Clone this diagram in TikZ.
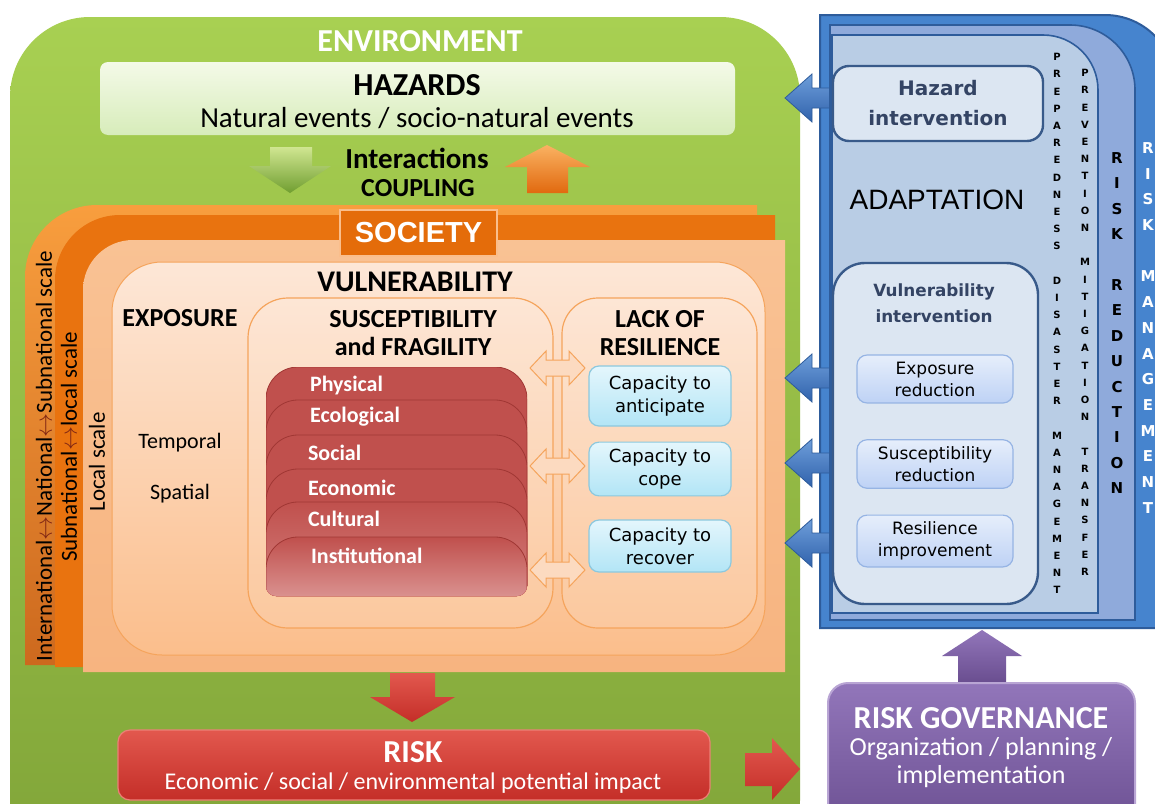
\documentclass[tikz,border=0pt]{standalone}
\usepackage{fontspec}
\setmainfont{Carlito}
\newfontfamily\verdfont{DejaVu Sans}
\newfontfamily\arialfont{Liberation Sans}
\usetikzlibrary{positioning}

\definecolor{envtop}{RGB}{168,208,82}
\definecolor{envbot}{RGB}{128,164,56}
\definecolor{haztop}{RGB}{244,250,232}
\definecolor{hazbot}{RGB}{215,236,186}
\definecolor{orgA}{RGB}{248,158,62}
\definecolor{orgAbot}{RGB}{205,105,30}
\definecolor{orgB}{RGB}{233,115,15}
\definecolor{peach}{RGB}{249,194,148}
\definecolor{peachbot}{RGB}{247,180,128}
\definecolor{vultop}{RGB}{253,231,215}
\definecolor{vulbot}{RGB}{251,190,140}
\definecolor{vulline}{RGB}{245,164,92}
\definecolor{socbox}{RGB}{228,108,10}
\definecolor{stackred}{RGB}{192,80,77}
\definecolor{stackline}{RGB}{160,55,52}
\definecolor{captop}{RGB}{228,246,252}
\definecolor{capbot}{RGB}{178,229,246}
\definecolor{capline}{RGB}{140,200,222}
\definecolor{dblfill}{RGB}{252,218,192}
\definecolor{risktop}{RGB}{226,88,78}
\definecolor{riskbot}{RGB}{196,46,40}
\definecolor{blueA}{RGB}{70,132,206}
\definecolor{blueline}{RGB}{46,92,155}
\definecolor{blueB}{RGB}{143,170,219}
\definecolor{blueC}{RGB}{185,205,229}
\definecolor{intfill}{RGB}{220,230,242}
\definecolor{intline}{RGB}{56,90,138}
\definecolor{inttext}{RGB}{52,68,100}
\definecolor{smalltop}{RGB}{230,238,251}
\definecolor{smallbot}{RGB}{190,210,245}
\definecolor{smallline}{RGB}{150,180,228}
\definecolor{arrtop}{RGB}{110,158,218}
\definecolor{arrbot}{RGB}{48,98,172}
\definecolor{purtop}{RGB}{146,118,186}
\definecolor{purbot}{RGB}{106,78,144}
\definecolor{purline}{RGB}{185,165,212}
\definecolor{scalearrow}{RGB}{130,40,20}

\newcommand\fsz[2]{\fontsize{#1}{#2}\selectfont}
\newcommand\lr{\textcolor{scalearrow}{$\leftrightarrow$}}

\tikzset{
  head/.style={font=\bfseries\fsz{13}{14}, align=center},
  layerbox/.style={fill=stackred, draw=stackline, line width=0.4pt, rounded corners=16pt},
  redtag/.style={font=\bfseries\fsz{11}{13}, text=white, anchor=west},
  capbox/.style={draw=capline, line width=0.6pt, rounded corners=5pt, top color=captop,
    bottom color=capbot, minimum width=71pt, font=\verdfont\fsz{9}{11.5}, align=center},
  twoway/.style={fill=dblfill, draw=vulline, line width=0.5pt},
  panelarrow/.style={top color=arrtop, bottom color=arrbot, draw=blueline, line width=0.4pt},
  intbox/.style={fill=intfill, draw=intline, line width=1.2pt, text=inttext, align=center},
  smallbox/.style={top color=smalltop, bottom color=smallbot, draw=smallline, line width=0.6pt,
    rounded corners=5pt, minimum width=78pt, minimum height=21pt,
    font=\verdfont\fsz{8.5}{11}, align=center},
  tinyletter/.style={font=\verdfont\bfseries\fsz{5}{6}, inner sep=0pt},
  bigletter/.style={font=\verdfont\bfseries\fsz{7.5}{8}, inner sep=0pt},
  scaletext/.style={rotate=90, font=\fsz{11.5}{13}},
}

\begin{document}
\begin{tikzpicture}[x=0.5pt,y=-0.5pt]
\useasboundingbox (0,0) rectangle (1155,803);
\clip (0,0) rectangle (1155,803);
\fill[white] (0,0) rectangle (1155,803);

% environment
\path[top color=envtop, bottom color=envbot, rounded corners=40pt] (10,17) rectangle (800,880);
\node[font=\bfseries\fsz{16}{18}, text=white] (env) at (420,41) {ENVIRONMENT};

% hazards
\node[top color=haztop, bottom color=hazbot, rounded corners=4pt, minimum width=317.5pt,
  minimum height=36.5pt] (hazards) at (417.5,98.5) {};
\node[font=\bfseries\fsz{16}{18}] (haztitle) at (417,85) {HAZARDS};
\node[font=\fsz{14.5}{17}] (hazsub) at (417,118) {Natural events / socio-natural events};

% coupling arrows
\path[top color={rgb,255:red,208;green,230;blue,145}, bottom color={rgb,255:red,112;green,158;blue,48}]
  (270,147) -- (312,147) -- (312,166) -- (331,166) -- (290,193) -- (249,166) -- (270,166) -- cycle;
\path[top color={rgb,255:red,250;green,178;blue,98}, bottom color={rgb,255:red,225;green,105;blue,15}]
  (547,145) -- (590,167) -- (568,167) -- (568,193) -- (527,193) -- (527,167) -- (505,167) -- cycle;
\node[font=\bfseries\fsz{14.5}{16}] (inter) at (417,158) {Interactions};
\node[font=\bfseries\fsz{13}{15}] (coupl) at (418,188) {COUPLING};

% society layers
\path[top color=orgA, bottom color=orgAbot] (25,665) -- (25,277)
  arc[start angle=180, end angle=270, radius=72] -- (757,205) -- (757,665) -- cycle;
\path[fill=orgB] (55,667) -- (55,280)
  arc[start angle=180, end angle=270, radius=65] -- (775,215) -- (775,667) -- cycle;
\path[top color=peach, bottom color=peachbot] (83,672) -- (83,290)
  arc[start angle=180, end angle=270, radius=50] -- (785,240) -- (785,672) -- cycle;
\node[fill=socbox, draw={rgb,255:red,250;green,190;blue,140}, line width=0.6pt, minimum width=78.5pt,
  minimum height=23pt, text=white, font=\arialfont\bfseries\fsz{14.5}{16}] (society) at (418.5,233) {SOCIETY};

\node[scaletext] (scaleA) at (44,456) {International\lr National\lr Subnational scale};
\node[scaletext] (scaleB) at (69,447) {Subnational\lr local scale};
\node[scaletext] (scaleC) at (97,462) {Local scale};

% vulnerability
\node[top color=vultop, bottom color=vulbot, draw=vulline, line width=0.5pt, rounded corners=25pt,
  minimum width=326.5pt, minimum height=196.5pt] (vuln) at (438.5,458.5) {};
\node[font=\bfseries\fsz{15}{17}] (vulntitle) at (415,282) {VULNERABILITY};
\node[head] (expo) at (180,318) {EXPOSURE};
\node[font=\fsz{11}{13}] (temporal) at (180,443) {Temporal};
\node[font=\fsz{11}{13}] (spatial) at (180,494) {Spatial};

\node[fill=white, fill opacity=0.12, draw=vulline, line width=0.6pt, rounded corners=20pt,
  minimum width=152.5pt, minimum height=165pt] (suscbox) at (400.5,463) {};
\node[fill=white, fill opacity=0.12, draw=vulline, line width=0.6pt, rounded corners=18pt,
  minimum width=97.5pt, minimum height=165pt] (resbox) at (659.5,463) {};
\node[head] (susc) at (413,333) {SUSCEPTIBILITY\\and FRAGILITY};
\node[head] (lack) at (660,333) {LACK OF\\RESILIENCE};

% susceptibility stack
\begin{scope}
  \clip[rounded corners=5pt] (266,367) rectangle (527,596);
  \path[layerbox] (266,367) rectangle (527,660);
  \path[layerbox] (266,400) rectangle (527,660);
  \path[layerbox] (266,435) rectangle (527,660);
  \path[layerbox] (266,469) rectangle (527,660);
  \path[layerbox, top color=stackred, bottom color={rgb,255:red,225;green,160;blue,158}] (266,502) rectangle (527,660);
  \path[layerbox, top color=stackred, bottom color={rgb,255:red,245;green,215;blue,214}] (266,537) rectangle (527,660);
\end{scope}
\node[redtag] (physical) at (303,386) {Physical};
\node[redtag] (ecolog) at (303,417) {Ecological};
\node[redtag] (social) at (301,453) {Social};
\node[redtag] (econ) at (301,488) {Economic};
\node[redtag] (cultural) at (301,519) {Cultural};
\node[redtag] (instit) at (304,556) {Institutional};

% capacities
\node[capbox, minimum height=30pt] (anticip) at (660,396) {Capacity to\\anticipate};
\node[capbox, minimum height=25pt] (cope) at (660,469) {Capacity to\\cope};
\node[capbox, minimum height=26pt] (recover) at (660,546) {Capacity to\\recover};

\foreach \y in {368,466,570}
  \path[twoway] (530,\y) -- (546,\y-17) -- (546,\y-8) -- (569,\y-8) -- (569,\y-17) -- (585,\y)
    -- (569,\y+17) -- (569,\y+8) -- (546,\y+8) -- (546,\y+17) -- cycle;

% risk
\path[top color=risktop, bottom color=riskbot]
  (390,673) -- (435,673) -- (435,697) -- (455,697) -- (412,722) -- (370,697) -- (390,697) -- cycle;
\node[top color=risktop, bottom color=riskbot, draw={rgb,255:red,236;green,128;blue,118}, line width=0.6pt,
  rounded corners=6pt, minimum width=296pt, minimum height=35pt] (risk) at (414,765) {};
\node[font=\bfseries\fsz{16}{18}, text=white] (risktitle) at (413,752) {RISK};
\node[font=\fsz{12}{14}, text=white] (risksub) at (413,783) {Economic / social / environmental potential impact};
\path[top color=risktop, bottom color=riskbot]
  (745,753) -- (772,753) -- (772,738) -- (800,769) -- (772,800) -- (772,786) -- (745,786) -- cycle;

% risk management panel
\path[fill=blueA, draw=blueline, line width=1pt] (820,628) -- (820,15) -- (1105,15)
  arc[start angle=270, end angle=360, radius=70] -- (1175,628) -- cycle;
\foreach \y in {98,378,463,543}
  \path[panelarrow] (834,\y-10) -- (812,\y-10) -- (812,\y-24) -- (785,\y) -- (812,\y+24)
    -- (812,\y+10) -- (834,\y+10) -- cycle;
\path[fill=blueB, draw=blueline, line width=0.8pt] (830,620) -- (830,25) -- (1070,25)
  arc[start angle=270, end angle=360, radius=65] -- (1135,620) -- cycle;
\path[fill=blueC, draw=blueline, line width=0.8pt] (832,613) -- (832,35) -- (1043,35)
  arc[start angle=270, end angle=360, radius=55] -- (1098,613) -- cycle;

% letter columns
\foreach \l [count=\i from 0] in {P,R,E,P,A,R,E,D,N,E,S,S}
  \node[tinyletter] (prep\i) at (1057,{57+\i*17.2}) {\l};
\foreach \l [count=\i from 13] in {D,I,S,A,S,T,E,R}
  \node[tinyletter] (disas\i) at (1057,{57+\i*17.2}) {\l};
\foreach \l [count=\i from 22] in {M,A,N,A,G,E,M,E,N,T}
  \node[tinyletter] (manag\i) at (1057,{57+\i*17.2}) {\l};
\foreach \l [count=\i from 0] in {P,R,E,V,E,N,T,I,O,N}
  \node[tinyletter] (prev\i) at (1085,{73+\i*17.2}) {\l};
\foreach \l [count=\i from 11] in {M,I,T,I,G,A,T,I,O,N}
  \node[tinyletter] (mitig\i) at (1085,{73+\i*17.2}) {\l};
\foreach \l [count=\i from 22] in {T,R,A,N,S,F,E,R}
  \node[tinyletter] (trans\i) at (1085,{73+\i*17.2}) {\l};
\foreach \l [count=\i from 0] in {R,I,S,K}
  \node[bigletter] (redA\i) at (1117,{158+\i*25.4}) {\l};
\foreach \l [count=\i from 5] in {R,E,D,U,C,T,I,O,N}
  \node[bigletter] (redB\i) at (1117,{158+\i*25.4}) {\l};
\foreach \l [count=\i from 0] in {R,I,S,K}
  \node[bigletter, text=white] (mgtA\i) at (1148,{148+\i*25.7}) {\l};
\foreach \l [count=\i from 5] in {M,A,N,A,G,E,M,E,N,T}
  \node[bigletter, text=white] (mgtB\i) at (1148,{148+\i*25.7}) {\l};

% interventions
\node[intbox, rounded corners=8pt, minimum width=105pt, minimum height=37.5pt,
  font=\verdfont\bfseries\fsz{10}{15}] (hazint) at (938,103.5) {Hazard\\intervention};
\node[font=\arialfont\fsz{14}{16}] (adapt) at (937,200) {ADAPTATION};
\node[intbox, rounded corners=16pt, minimum width=102.5pt, minimum height=170.5pt] (vulint) at (935.5,433.5) {};
\node[font=\verdfont\bfseries\fsz{8.4}{13}, text=inttext, align=center] (vulinttxt) at (934,303) {Vulnerability\\intervention};
\node[smallbox] (expored) at (935,379) {Exposure\\reduction};
\node[smallbox] (suscred) at (935,464) {Susceptibility\\reduction};
\node[smallbox] (resimp) at (935,541) {Resilience\\improvement};

% governance
\path[top color=purtop, bottom color=purbot]
  (982,630) -- (1022,656) -- (1006,656) -- (1006,682) -- (958,682) -- (958,656) -- (942,656) -- cycle;
\node[top color=purtop, bottom color=purbot, draw=purline, line width=1pt, rounded corners=10pt,
  minimum width=153.5pt, minimum height=77pt] (gov) at (981.5,760) {};
\node[font=\bfseries\fsz{16}{18}, text=white] (govtitle) at (981,718) {RISK GOVERNANCE};
\node[font=\fsz{13}{15}, text=white] (govsubA) at (981,749) {Organization / planning /};
\node[font=\fsz{13}{15}, text=white] (govsubB) at (981,777) {implementation};
\end{tikzpicture}
\end{document}
